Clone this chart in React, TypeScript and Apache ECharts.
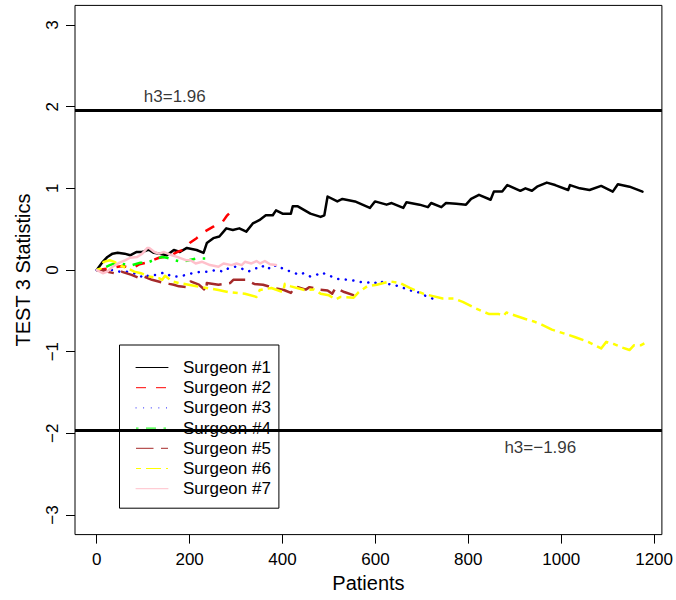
import React, { useEffect, useRef } from "react";
import * as echarts from "echarts";

const surgeonNames = ["Surgeon #1", "Surgeon #2", "Surgeon #3", "Surgeon #4", "Surgeon #5", "Surgeon #6", "Surgeon #7"];
const surgeonColors = ["#000000", "#FF0000", "#0000FF", "#00FF00", "#A52A2A", "#FFFF00", "#FFC0CB"];

const s1x = [0, 13, 23, 34, 45, 60, 72, 85, 98, 112, 123, 136, 151, 166, 179, 194, 215, 230, 237, 251, 264, 279, 293, 307, 322, 336, 350, 364, 379, 386, 400, 418, 422, 433, 460, 482, 490, 497, 518, 529, 556, 588, 599, 624, 635, 660, 667, 695, 713, 720, 742, 752, 774, 795, 806, 823, 848, 855, 873, 884, 912, 923, 937, 948, 969, 987, 1015, 1019, 1040, 1061, 1086, 1111, 1122, 1147, 1175];
const s1y = [0, 0.10, 0.16, 0.20, 0.21, 0.20, 0.18, 0.22, 0.22, 0.25, 0.21, 0.20, 0.18, 0.245, 0.22, 0.27, 0.245, 0.21, 0.33, 0.39, 0.41, 0.51, 0.49, 0.51, 0.47, 0.57, 0.61, 0.67, 0.67, 0.73, 0.69, 0.69, 0.78, 0.78, 0.69, 0.65, 0.67, 0.90, 0.84, 0.87, 0.84, 0.76, 0.84, 0.80, 0.82, 0.76, 0.83, 0.80, 0.77, 0.82, 0.77, 0.82, 0.81, 0.80, 0.87, 0.92, 0.86, 0.96, 0.96, 1.04, 0.97, 1.00, 0.97, 1.02, 1.07, 1.04, 0.98, 1.04, 1.00, 0.98, 1.03, 0.96, 1.05, 1.02, 0.96];

const s2x = [0, 28, 55, 77, 92, 113, 134, 156, 173, 185, 200, 215, 232, 251, 271, 281, 290];
const s2y = [0, 0.02, 0.05, 0.02, 0.07, 0.10, 0.15, 0.17, 0.22, 0.245, 0.33, 0.39, 0.47, 0.53, 0.59, 0.67, 0.72];

const s3x = [0, 15, 32, 49, 64, 87, 102, 113, 128, 145, 162, 177, 192, 205, 226, 241, 256, 273, 283, 298, 311, 326, 341, 354, 360, 375, 386, 403, 418, 437, 445, 460, 473, 484, 501, 518, 526, 539, 554, 571, 582, 597, 607, 624, 639, 656, 673, 688, 705, 723];
const s3y = [0, -0.01, 0, -0.02, -0.02, -0.05, -0.10, -0.06, -0.06, -0.03, -0.08, -0.08, -0.06, -0.04, -0.02, -0.02, 0, -0.02, 0.02, 0.04, 0.02, -0.02, 0.02, 0.02, 0.06, 0.01, 0.06, 0.01, -0.02, -0.06, -0.04, -0.08, -0.06, -0.03, -0.07, -0.11, -0.11, -0.12, -0.13, -0.15, -0.15, -0.17, -0.13, -0.17, -0.18, -0.21, -0.25, -0.26, -0.31, -0.35];

const s4x = [0, 13, 28, 43, 60, 77, 94, 109, 126, 141, 151, 168, 185, 198, 215, 237, 241];
const s4y = [0, 0.02, 0.06, 0.09, 0.07, 0.06, 0.09, 0.09, 0.13, 0.16, 0.15, 0.12, 0.10, 0.12, 0.14, 0.14, 0.15];

const s5x = [0, 11, 21, 38, 53, 75, 92, 102, 119, 139, 156, 166, 177, 194, 202, 220, 236, 237, 262, 287, 294, 320, 339, 358, 382, 403, 418, 428, 450, 458, 480, 497, 507, 514, 533, 554];
const s5y = [0, 0, -0.02, -0.04, -0.02, -0.06, -0.10, -0.08, -0.12, -0.15, -0.17, -0.18, -0.20, -0.21, -0.14, -0.18, -0.26, -0.16, -0.18, -0.16, -0.12, -0.12, -0.17, -0.18, -0.22, -0.245, -0.28, -0.20, -0.24, -0.21, -0.24, -0.25, -0.29, -0.22, -0.27, -0.31];

const s6x = [0, 9, 15, 28, 38, 53, 66, 81, 95, 113, 134, 141, 147, 162, 177, 198, 215, 237, 262, 283, 319, 344, 351, 376, 401, 405, 418, 447, 468, 482, 500, 514, 525, 553, 564, 582, 603, 632, 653, 674, 703, 724, 745, 770, 788, 802, 816, 845, 866, 876, 882, 902, 923, 941, 958, 980, 1008, 1029, 1058, 1086, 1097, 1115, 1132, 1147, 1157, 1172, 1182];
const s6y = [0, 0.02, 0.10, 0.12, 0.10, 0.05, 0.02, -0.02, -0.04, -0.08, -0.10, -0.12, -0.07, -0.14, -0.16, -0.18, -0.20, -0.22, -0.245, -0.27, -0.29, -0.33, -0.245, -0.22, -0.27, -0.17, -0.20, -0.245, -0.24, -0.29, -0.31, -0.36, -0.33, -0.34, -0.27, -0.20, -0.18, -0.14, -0.16, -0.22, -0.29, -0.32, -0.35, -0.35, -0.39, -0.43, -0.47, -0.54, -0.54, -0.56, -0.52, -0.56, -0.60, -0.63, -0.67, -0.73, -0.78, -0.82, -0.88, -0.96, -0.88, -0.91, -0.95, -0.98, -0.92, -0.92, -0.89];

const s7x = [0, 13, 23, 34, 49, 62, 72, 87, 98, 109, 113, 124, 134, 145, 162, 173, 183, 192, 202, 213, 227, 244, 262, 273, 290, 301, 312, 319, 333, 344, 352, 362, 373, 386];
const s7y = [0, -0.04, -0.02, 0.04, 0.09, 0.12, 0.15, 0.16, 0.20, 0.27, 0.27, 0.22, 0.20, 0.22, 0.18, 0.16, 0.14, 0.12, 0.12, 0.08, 0.10, 0.06, 0.04, 0.08, 0.06, 0.08, 0.06, 0.10, 0.08, 0.11, 0.08, 0.11, 0.07, 0.06];

const seriesX = [s1x, s2x, s3x, s4x, s5x, s6x, s7x];
const seriesY = [s1y, s2y, s3y, s4y, s5y, s6y, s7y];

const xTicks = [0, 200, 400, 600, 800, 1000, 1200];
const yTicks = [-3, -2, -1, 0, 1, 2, 3];
const thresholds = [1.96, -1.96];
const thresholdLabels = ["h3=1.96", "h3=\u22121.96"];
const thresholdLabelX = [168, 955];
const thresholdLabelY = [2.13, -2.17];

const FONT = "'Liberation Sans', Arial, Helvetica, sans-serif";

const dashTypes: any[] = ["solid", [10, 10], [0.1, 7.5], [2.5, 7.5, 10, 7.5], [17.5, 7.5], [5, 5, 15, 5], "solid"];
const caps = ["round", "butt", "round", "butt", "butt", "butt", "round"];

export default function App() {
  const ref = useRef<HTMLDivElement>(null);
  useEffect(() => {
    if (!ref.current) return;
    const chart = echarts.init(ref.current, null, { renderer: "svg" });
    const lineSeries = surgeonNames.map((name, i) => ({
      name,
      type: "line",
      data: seriesX[i].map((x, j) => [x, seriesY[i][j]]),
      showSymbol: false,
      symbol: "none",
      z: 2 + i * 0.01,
      lineStyle: { color: surgeonColors[i], width: 2.5, type: dashTypes[i], cap: caps[i], join: "round" },
      itemStyle: { color: surgeonColors[i] },
    }));
    const option: any = {
      animation: false,
      backgroundColor: "#ffffff",
      textStyle: { fontFamily: FONT },
      grid: { left: 75, right: 8, top: 5.4, bottom: 65.4, show: true, borderColor: "#000", borderWidth: 1, backgroundColor: "transparent" },
      xAxis: {
        type: "value",
        min: -46.8,
        max: 1216.8,
        axisLine: { show: false, onZero: false },
        splitLine: { show: false },
        axisTick: { show: true, customValues: xTicks, length: 9, lineStyle: { color: "#000", width: 1 } },
        axisLabel: { customValues: xTicks, margin: 16, fontSize: 17, color: "#000", fontFamily: FONT, formatter: (v: number) => String(v) },
        name: "Patients",
        nameLocation: "middle",
        nameGap: 38,
        nameTextStyle: { fontSize: 20, color: "#000", fontFamily: FONT },
      },
      yAxis: {
        type: "value",
        min: -3.24,
        max: 3.24,
        axisLine: { show: false, onZero: false },
        splitLine: { show: false },
        axisTick: { show: true, customValues: yTicks, length: 9, lineStyle: { color: "#000", width: 1 } },
        axisLabel: {
          customValues: yTicks,
          rotate: 90,
          margin: 14,
          fontSize: 17,
          color: "#000",
          fontFamily: FONT,
          formatter: (v: number) => String(v).replace("-", "\u2212"),
        },
        name: "TEST 3 Statistics",
        nameLocation: "middle",
        nameGap: 42,
        nameTextStyle: { fontSize: 20, color: "#000", fontFamily: FONT },
      },
      legend: {
        data: surgeonNames,
        orient: "vertical",
        left: 119.5,
        top: 345,
        padding: [14, 8, 11, 16],
        itemWidth: 32,
        itemHeight: 14,
        itemGap: 3.2,
        backgroundColor: "#ffffff",
        borderColor: "#000",
        borderWidth: 1,
        borderRadius: 0,
        itemStyle: { opacity: 0, borderWidth: 0 },
        lineStyle: { width: 1 },
        textStyle: { fontSize: 17, color: "#000", fontFamily: FONT, lineHeight: 17, padding: [0, 0, 0, 10] },
        selectedMode: false,
      },
      series: [
        ...lineSeries,
        {
          name: "thresholds",
          type: "line",
          data: [],
          z: 10,
          markLine: {
            silent: true,
            symbol: "none",
            animation: false,
            label: { show: false },
            lineStyle: { color: "#000", width: 3, type: "solid" },
            data: thresholds.map((t) => ({ yAxis: t })),
          },
        },
        {
          name: "thresholdLabels",
          type: "scatter",
          z: 11,
          symbolSize: 1,
          itemStyle: { color: "transparent" },
          data: thresholdLabelX.map((x, i) => ({ value: [x, thresholdLabelY[i]], label: { formatter: thresholdLabels[i] } })),
          label: { show: true, position: "inside", fontSize: 17, color: "#000", fontFamily: FONT },
        },
      ],
    };
    chart.setOption(option);
    return () => chart.dispose();
  }, []);
  return <div ref={ref} style={{ position: "fixed", left: 0, top: 0, width: 676, height: 600, background: "#fff" }} />;
}
